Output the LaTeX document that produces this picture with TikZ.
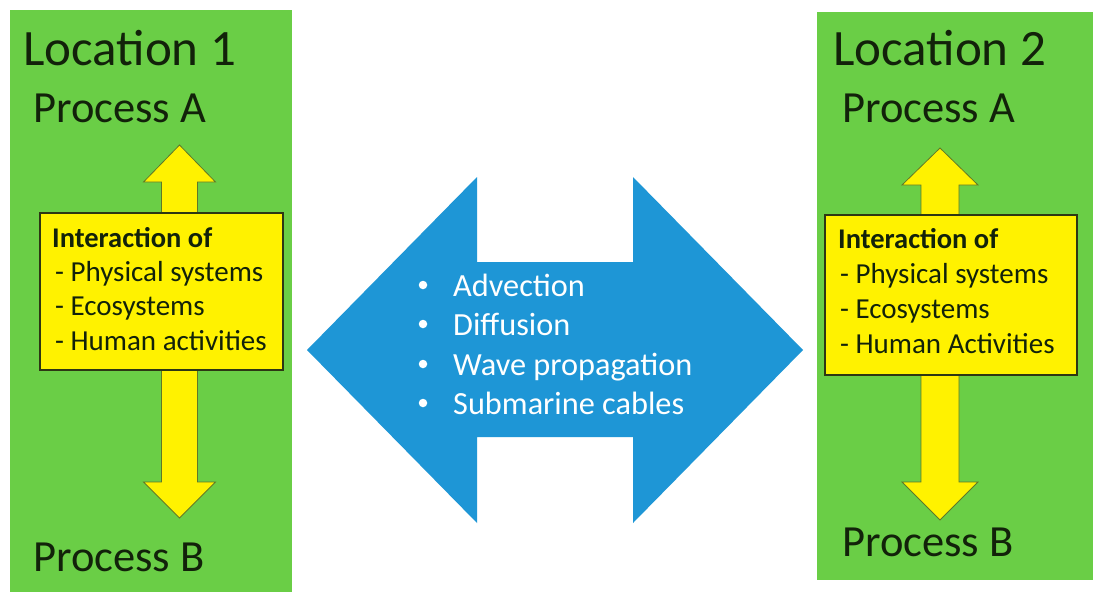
\documentclass[tikz,border=0pt]{standalone}
\usepackage{fontspec}
\setmainfont{Carlito}
\definecolor{locgreen}{RGB}{106,206,70}
\definecolor{arrblue}{RGB}{30,150,214}
\definecolor{txtdark}{RGB}{18,34,10}
\definecolor{ybord}{RGB}{45,55,20}
\definecolor{yarrbord}{RGB}{95,120,40}
\begin{document}
\begin{tikzpicture}[x=1pt,y=-1pt,
  locbox/.style={fill=locgreen,draw=none},
  yarrow/.style={fill=yellow,draw=yarrbord,line width=0.8pt,line join=miter},
  ybox/.style={fill=yellow,draw=ybord,line width=1.8pt,inner sep=0pt},
  bigtxt/.style={anchor=base west,inner sep=0pt,text=txtdark,font=\fontsize{51}{51}\selectfont},
  proctxt/.style={anchor=base west,inner sep=0pt,text=txtdark,font=\fontsize{44.5}{44.5}\selectfont},
  headtxt/.style={anchor=base west,inner sep=0pt,text=txtdark,font=\fontsize{28.5}{28.5}\selectfont\bfseries},
  itemtxt/.style={anchor=base west,inner sep=0pt,text=txtdark,font=\fontsize{29}{29}\selectfont},
  bultxt/.style={anchor=base west,inner sep=0pt,text=white,font=\fontsize{32.3}{32.3}\selectfont},
  bulletdot/.style={circle,fill=white,inner sep=0pt,minimum size=8.5pt}
]
\useasboundingbox (0,0) rectangle (1093,592);
\fill[white] (0,0) rectangle (1093,592);

% green location panels
\path[locbox] (10,10) rectangle (292,592);
\path[locbox] (817,12) rectangle (1093,580);

% left location
\node[bigtxt] (loc1) at (23,65) {Location 1};
\node[proctxt] (pa1) at (33,122) {Process A};
\node[proctxt] (pb1) at (33,571) {Process B};
\coordinate (l1top) at (179.5,145);
\coordinate (l1bot) at (179.5,518);
\draw[yarrow] (l1top) -- ++(36,37) -- ++(-18,0) -- ++(0,300) -- ++(18,0)
  -- (l1bot) -- ++(-36,-36) -- ++(18,0) -- ++(0,-300) -- ++(-18,0) -- cycle;
\node[ybox,minimum width=243pt,minimum height=157pt] (box1) at (161.5,291.5) {};
\node[headtxt] (h1) at (52,247) {Interaction of};
\node[itemtxt] (a1) at (55,281) {- Physical systems};
\node[itemtxt] (b1) at (55,315) {- Ecosystems};
\node[itemtxt] (c1) at (55,350) {- Human activities};

% right location
\node[bigtxt] (loc2) at (833,65) {Location 2};
\node[proctxt] (pa2) at (842,122) {Process A};
\node[proctxt] (pb2) at (842,556) {Process B};
\coordinate (l2top) at (940,148);
\coordinate (l2bot) at (940,520);
\draw[yarrow] (l2top) -- ++(38,37) -- ++(-19,0) -- ++(0,297) -- ++(19,0)
  -- (l2bot) -- ++(-38,-38) -- ++(19,0) -- ++(0,-297) -- ++(-19,0) -- cycle;
\node[ybox,minimum width=252pt,minimum height=160pt] (box2) at (951,295) {};
\node[headtxt] (h2) at (838,248) {Interaction of};
\node[itemtxt] (a2) at (840,283) {- Physical systems};
\node[itemtxt] (b2) at (840,318) {- Ecosystems};
\node[itemtxt] (c2) at (840,353) {- Human Activities};

% central blue double arrow
\fill[arrblue] (307,350) -- (477,177) -- (477,262) -- (633,262) -- (633,177)
  -- (803,350) -- (633,523) -- (633,437) -- (477,437) -- (477,523) -- cycle;
\node[bulletdot] (d1) at (423,285) {};
\node[bulletdot] (d2) at (423,324) {};
\node[bulletdot] (d3) at (423,364) {};
\node[bulletdot] (d4) at (423,403) {};
\node[bultxt] (t1) at (453,296) {Advection};
\node[bultxt] (t2) at (453,335) {Diffusion};
\node[bultxt] (t3) at (453,375) {Wave propagation};
\node[bultxt] (t4) at (453,414) {Submarine cables};
\end{tikzpicture}
\end{document}
